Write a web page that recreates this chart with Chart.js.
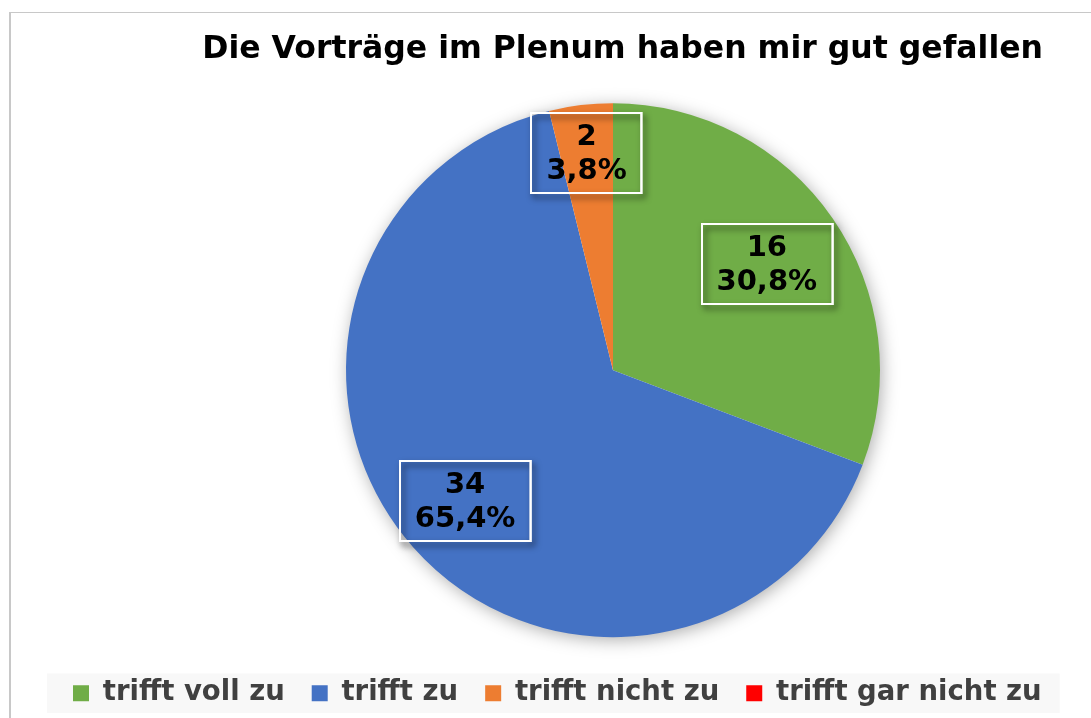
<!DOCTYPE html>
<html>
<head>
<meta charset="utf-8">
<script src="https://cdn.jsdelivr.net/npm/chart.js@4"></script>
<style>
  html, body { margin: 0; padding: 0; background: #fff; }
  canvas { display: block; }
</style>
</head>
<body>
<canvas id="myChart" width="1091" height="718"></canvas>
<script>
const categories = ["trifft voll zu", "trifft zu", "trifft nicht zu", "trifft gar nicht zu"];
const answers = [16, 34, 2, 0];
const sliceColors = ["#70AD47", "#4472C4", "#ED7D31", "#FF0000"];
const chartTitle = "Die Vorträge im Plenum haben mir gut gefallen";

const FONT = "'DejaVu Sans', Verdana, sans-serif";

// white page, grey frame and the light band behind the legend
const framePlugin = {
  id: 'frame',
  beforeDraw(chart) {
    const c = chart.ctx;
    c.save();
    c.fillStyle = '#fff';
    c.fillRect(0, 0, chart.width, chart.height);
    c.fillStyle = '#c8c8c8';
    c.fillRect(9, 12, chart.width, 1);
    c.fillRect(9, 12, 2, chart.height);
    const hb = chart.legend.legendHitBoxes;
    if (hb && hb.length) {
      const first = hb[0], last = hb[hb.length - 1];
      const x0 = first.left - 26;
      const x1 = last.left + last.width + 18;
      c.fillStyle = '#f8f8f8';
      c.fillRect(x0, first.top - 6, x1 - x0, first.height + 12);
    }
    c.restore();
  }
};

// pull the plot area in and nudge the title, as in the original layout
const plotInsetPlugin = {
  id: 'plotInset',
  afterLayout(chart, args, opts) {
    const a = chart.chartArea;
    a.left += opts.left || 0;
    a.right -= opts.right || 0;
    a.top += opts.top || 0;
    a.bottom -= opts.bottom || 0;
    a.width = a.right - a.left;
    a.height = a.bottom - a.top;
    if (chart.titleBlock && opts.titleShift) {
      chart.titleBlock.left += opts.titleShift;
      chart.titleBlock.right += opts.titleShift;
    }
  }
};

// soft shadow under the whole pie
const pieShadowPlugin = {
  id: 'pieShadow',
  beforeDatasetsDraw(chart, args, opts) {
    const arc = chart.getDatasetMeta(0).data[0];
    if (!arc) return;
    const p = arc.getProps(['x', 'y', 'outerRadius'], true);
    const c = chart.ctx;
    c.save();
    c.shadowColor = opts.color;
    c.shadowBlur = opts.blur;
    c.shadowOffsetX = opts.offsetX;
    c.shadowOffsetY = opts.offsetY;
    c.fillStyle = '#fff';
    c.beginPath();
    c.arc(p.x, p.y, p.outerRadius - 1, 0, Math.PI * 2);
    c.fill();
    c.restore();
  }
};

// "value / percent" boxes on the slices
const valueLabelPlugin = {
  id: 'valueLabels',
  afterDatasetsDraw(chart, args, opts) {
    const meta = chart.getDatasetMeta(0);
    const data = chart.data.datasets[0].data;
    const total = data.reduce((s, v) => s + v, 0);
    const c = chart.ctx;
    c.save();
    c.font = 'bold ' + opts.fontSize + 'px ' + FONT;
    c.textAlign = 'center';
    c.textBaseline = 'middle';
    meta.data.forEach((arc, i) => {
      if (!data[i]) return;
      const p = arc.getProps(['x', 'y', 'startAngle', 'endAngle', 'outerRadius'], true);
      const mid = (p.startAngle + p.endAngle) / 2;
      const r = p.outerRadius * opts.radius[i];
      const cx = p.x + Math.cos(mid) * r;
      const cy = p.y + Math.sin(mid) * r;
      const lines = [String(data[i]), (data[i] / total * 100).toFixed(1).replace('.', ',') + '%'];
      const w = Math.max(...lines.map(t => c.measureText(t).width)) + opts.padX * 2;
      const h = opts.lineHeight * lines.length + opts.padY * 2;
      const bx = Math.round(cx - w / 2), by = Math.round(cy - h / 2);
      c.save();
      c.shadowColor = 'rgba(0,0,0,0.7)';
      c.shadowBlur = 6;
      c.shadowOffsetX = 3;
      c.shadowOffsetY = 4;
      c.lineWidth = 2;
      c.strokeStyle = '#fff';
      c.strokeRect(bx, by, w, h);
      c.restore();
      c.lineWidth = 2;
      c.strokeStyle = '#fff';
      c.strokeRect(bx, by, w, h);
      c.fillStyle = '#000';
      lines.forEach((t, k) => c.fillText(t, cx, by + opts.padY + opts.lineHeight * (k + 0.5) + 1));
    });
    c.restore();
  }
};

const ctx = document.getElementById('myChart').getContext('2d');
const myChart = new Chart(ctx, {
  type: 'pie',
  data: {
    labels: categories,
    datasets: [{
      data: answers,
      backgroundColor: sliceColors,
      borderWidth: 0,
      hoverOffset: 0
    }]
  },
  options: {
    responsive: false,
    animation: false,
    layout: { padding: { top: 0, left: 46, right: 0, bottom: 1 } },
    plugins: {
      title: {
        display: true,
        text: chartTitle,
        align: 'end',
        color: '#000',
        font: { family: FONT, size: 31.5, weight: 'bold' },
        padding: { top: 31, bottom: 34 }
      },
      legend: {
        position: 'bottom',
        align: 'start',
        labels: {
          color: '#404040',
          font: { family: FONT, size: 27.5, weight: 'bold' },
          boxWidth: 16,
          boxHeight: 16,
          padding: 27
        }
      },
      tooltip: { enabled: false },
      plotInset: { left: 300, right: 211, bottom: 15, titleShift: -48 },
      pieShadow: { color: 'rgba(0,0,0,0.35)', blur: 18, offsetX: 2, offsetY: 3 },
      valueLabels: { radius: [0.70, 0.74, 0.82, 0.7], fontSize: 29, lineHeight: 34, padX: 15, padY: 6 }
    }
  },
  plugins: [framePlugin, plotInsetPlugin, pieShadowPlugin, valueLabelPlugin]
});
</script>
</body>
</html>
